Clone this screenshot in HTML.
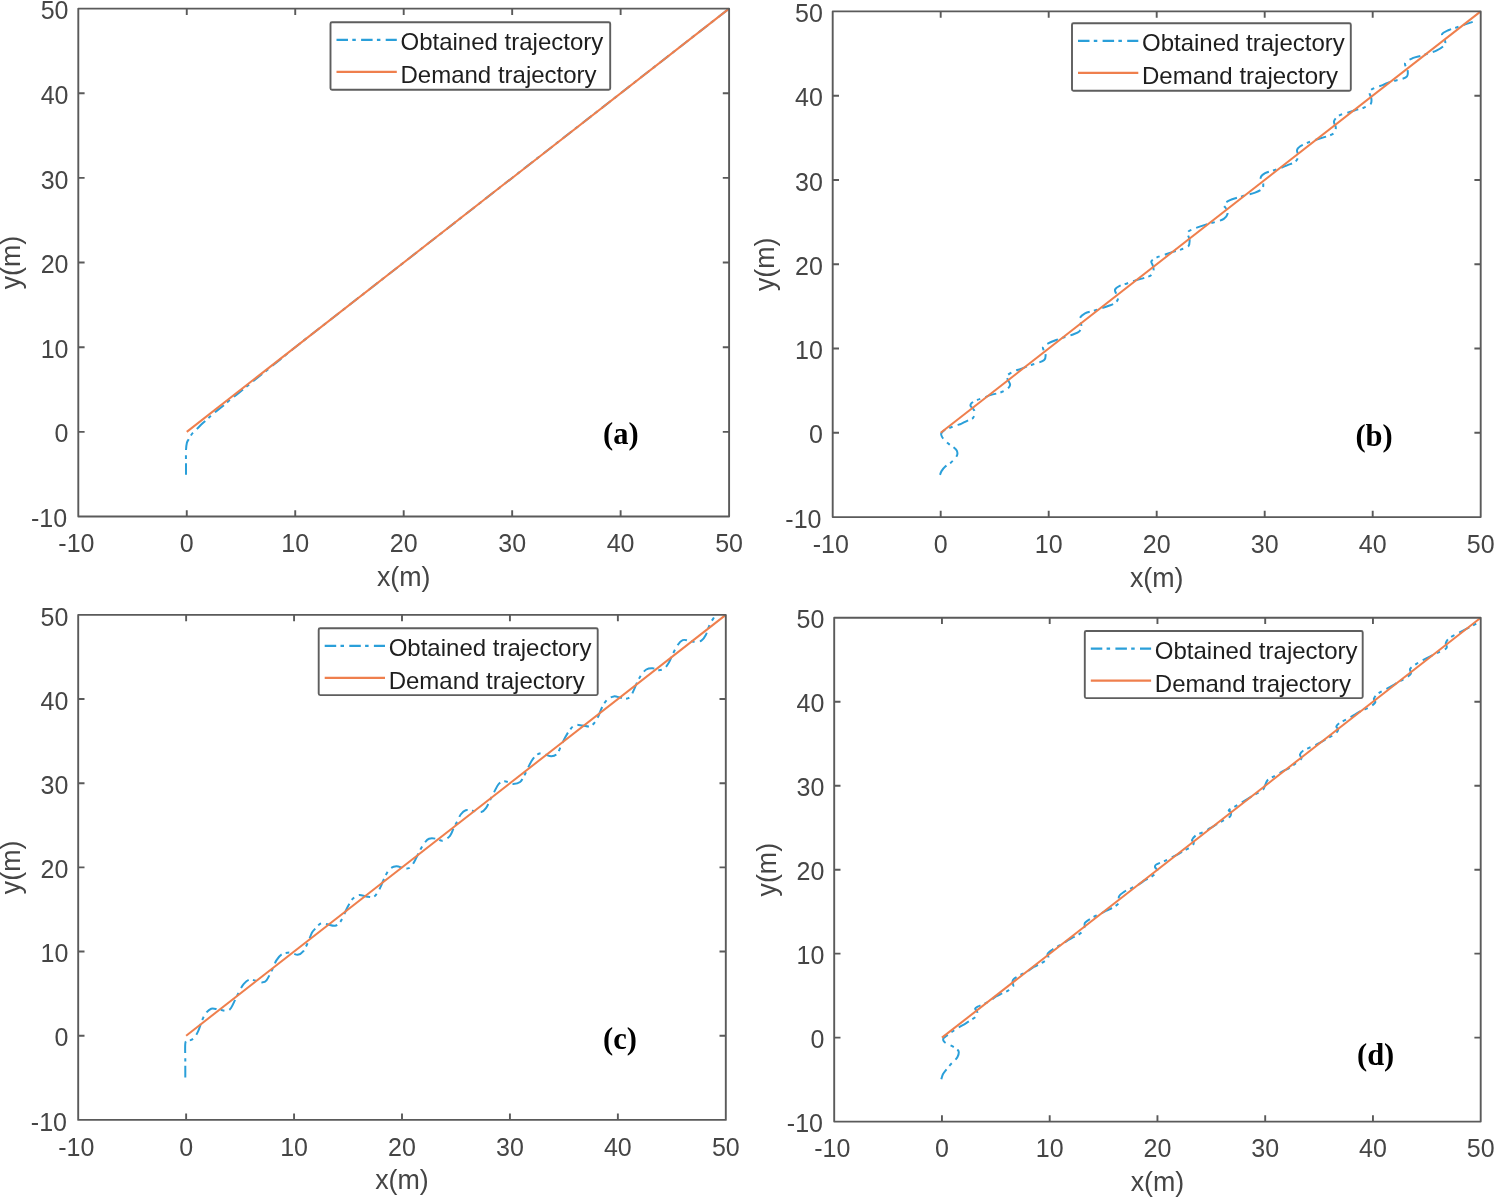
<!DOCTYPE html><html><head><meta charset="utf-8"><style>html,body{margin:0;padding:0;background:#fff;overflow:hidden;width:1494px;height:1198px;}svg{display:block;will-change:transform;}text{font-family:"Liberation Sans",sans-serif;}</style></head><body>
<svg xmlns="http://www.w3.org/2000/svg" width="1494" height="1198" viewBox="0 0 1494 1198">
<rect width="1494" height="1198" fill="#fff"/>
<g><path d="M186 474.7C186 472.93 186 468.17 186 464.1C186 460.03 185.85 453.85 186 450.3C186.15 446.75 186.43 444.68 186.9 442.8C187.37 440.92 187.97 440.47 188.8 439C189.63 437.53 190.65 435.57 191.9 434C193.15 432.43 194.52 431.38 196.3 429.6C198.08 427.82 200.52 425.28 202.6 423.3C204.68 421.32 206.9 419.42 208.8 417.7C210.7 415.98 211.8 414.82 214 413C216.2 411.17 219.33 408.92 222 406.75C224.67 404.58 227 402.46 230 399.98C233 397.51 236.67 394.6 240 391.91C243.33 389.22 246.67 386.53 250 383.84C253.33 381.15 256.67 378.46 260 375.77C263.33 373.08 266.67 370.39 270 367.7C273.33 365 276.67 362.31 280 359.62C283.33 356.93 286.67 354.24 290 351.55C293.33 348.86 295.83 346.78 300 343.48C304.17 340.18 310 335.68 315 331.77C320 327.87 322.5 325.92 330 320.07C337.5 314.21 348.33 305.76 360 296.65C371.67 287.55 386.67 275.84 400 265.44C413.33 255.03 426.67 244.63 440 234.22C453.33 223.81 466.67 213.41 480 203C493.33 192.6 506.67 182.19 520 171.79C533.33 161.38 546.67 150.98 560 140.57C573.33 130.16 586.67 119.76 600 109.35C613.33 98.95 626.67 88.54 640 78.14C653.33 67.73 666.67 57.32 680 46.92C693.33 36.51 711.98 21.96 720 15.7C728.02 9.45 726.75 10.43 728.1 9.38" fill="none" stroke="#2A9FD9" stroke-width="2" stroke-dasharray="11.5 4.3 3.5 5.3" stroke-linejoin="round"/><line x1="186.77" y1="431.85" x2="729.1" y2="8.6" stroke="#EF7F4D" stroke-width="2"/><rect x="78.3" y="8.6" width="650.8" height="507.9" fill="none" stroke="#5a5a5a" stroke-width="1.9" stroke-linejoin="round"/><path d="M186.77 516.5v-6.3M186.77 8.6v6.3M78.3 431.85h6.3M729.1 431.85h-6.3M295.23 516.5v-6.3M295.23 8.6v6.3M78.3 347.2h6.3M729.1 347.2h-6.3M403.7 516.5v-6.3M403.7 8.6v6.3M78.3 262.55h6.3M729.1 262.55h-6.3M512.17 516.5v-6.3M512.17 8.6v6.3M78.3 177.9h6.3M729.1 177.9h-6.3M620.63 516.5v-6.3M620.63 8.6v6.3M78.3 93.25h6.3M729.1 93.25h-6.3" stroke="#5a5a5a" stroke-width="1.9" fill="none"/><text x="76.4" y="552.1" text-anchor="middle" font-size="25" fill="#454545">-10</text><text x="67.1" y="527.1" text-anchor="end" font-size="25" fill="#454545">-10</text><text x="186.77" y="552.1" text-anchor="middle" font-size="25" fill="#454545">0</text><text x="68.5" y="442.45" text-anchor="end" font-size="25" fill="#454545">0</text><text x="295.23" y="552.1" text-anchor="middle" font-size="25" fill="#454545">10</text><text x="68.5" y="357.8" text-anchor="end" font-size="25" fill="#454545">10</text><text x="403.7" y="552.1" text-anchor="middle" font-size="25" fill="#454545">20</text><text x="68.5" y="273.15" text-anchor="end" font-size="25" fill="#454545">20</text><text x="512.17" y="552.1" text-anchor="middle" font-size="25" fill="#454545">30</text><text x="68.5" y="188.5" text-anchor="end" font-size="25" fill="#454545">30</text><text x="620.63" y="552.1" text-anchor="middle" font-size="25" fill="#454545">40</text><text x="68.5" y="103.85" text-anchor="end" font-size="25" fill="#454545">40</text><text x="729.1" y="552.1" text-anchor="middle" font-size="25" fill="#454545">50</text><text x="68.5" y="19.2" text-anchor="end" font-size="25" fill="#454545">50</text><text x="403.7" y="586" text-anchor="middle" font-size="26.8" fill="#454545">x(m)</text><text transform="translate(19.8 262.55) rotate(-90)" text-anchor="middle" font-size="26.8" fill="#454545">y(m)</text><rect x="330.5" y="22.2" width="279.7" height="67.6" rx="1.5" fill="#fff" stroke="#5e5e5e" stroke-width="1.9"/><line x1="336.5" y1="39.9" x2="396.8" y2="39.9" stroke="#2A9FD9" stroke-width="2.2" stroke-dasharray="11.5 4.3 3.5 5.3"/><line x1="336.5" y1="71.8" x2="396.8" y2="71.8" stroke="#EF7F4D" stroke-width="2.2"/><text x="400.5" y="49.7" font-size="24" fill="#1e1e1e">Obtained trajectory</text><text x="400.5" y="82.8" font-size="24" fill="#1e1e1e">Demand trajectory</text><text x="620.85" y="443.55" text-anchor="middle" font-family="Liberation Serif" style="font-family:'Liberation Serif',serif" font-weight="bold" font-size="30.5" fill="#000">(a)</text></g>
<g><path d="M940 474.9C940.25 474.27 940.62 472.48 941.5 471.1C942.38 469.72 943.8 467.97 945.3 466.6C946.8 465.23 948.87 464.27 950.5 462.9C952.13 461.53 953.97 459.78 955.1 458.4C956.23 457.02 957 455.85 957.3 454.6C957.6 453.35 957.33 451.97 956.9 450.9C956.47 449.83 956.02 449.33 954.7 448.2C953.38 447.07 950.7 445.47 949 444.1C947.3 442.73 945.68 441.25 944.5 440C943.32 438.75 942.45 437.67 941.9 436.6C941.35 435.53 940.88 434.6 941.2 433.6C941.52 432.6 942.37 431.55 943.8 430.6C945.23 429.65 947.67 428.78 949.8 427.9C951.93 427.02 954.72 425.98 956.6 425.3C958.48 424.62 959.6 424.42 961.1 423.8C962.6 423.18 964.1 422.35 965.6 421.6C967.1 420.85 968.85 419.93 970.1 419.3C971.35 418.67 972.28 418.93 973.1 417.8C973.92 416.67 975 414 975 412.5C975 411 973.85 409.92 973.1 408.8C972.35 407.68 970.75 406.75 970.5 405.8C970.25 404.85 970.55 404.05 971.6 403.1C972.65 402.15 974.67 401.03 976.8 400.1C978.93 399.17 982.02 398.37 984.4 397.5C986.78 396.63 988.48 395.72 991.1 394.9C993.72 394.08 997.48 393.52 1000.1 392.6C1002.72 391.68 1005.13 390.7 1006.8 389.4C1008.47 388.1 1009.88 386.35 1010.1 384.8C1010.32 383.25 1008.65 381.55 1008.1 380.1C1007.55 378.65 1005.9 377.55 1006.8 376.1C1007.7 374.65 1011.05 372.63 1013.5 371.4C1015.95 370.17 1019.05 369.63 1021.5 368.7C1023.95 367.77 1025.75 366.68 1028.2 365.8C1030.65 364.92 1033.53 364.37 1036.2 363.4C1038.87 362.43 1042.65 361.57 1044.2 360C1045.75 358.43 1045.72 356.1 1045.5 354C1045.28 351.9 1042.45 349.17 1042.9 347.4C1043.35 345.63 1045.98 344.63 1048.2 343.4C1050.42 342.17 1053.53 341.02 1056.2 340C1058.87 338.98 1061.52 338.18 1064.2 337.3C1066.88 336.42 1069.77 335.68 1072.3 334.7C1074.83 333.72 1077.9 332.98 1079.4 331.4C1080.9 329.82 1081.3 327.28 1081.3 325.2C1081.3 323.12 1078.78 320.88 1079.4 318.9C1080.02 316.92 1082.6 314.65 1085 313.3C1087.4 311.95 1091.08 311.63 1093.8 310.8C1096.52 309.97 1098.8 309.13 1101.3 308.3C1103.8 307.47 1106.4 306.75 1108.8 305.8C1111.2 304.85 1114.13 303.97 1115.7 302.6C1117.27 301.23 1118.1 299.05 1118.2 297.6C1118.3 296.15 1116.82 295.25 1116.3 293.9C1115.78 292.55 1114.47 290.87 1115.1 289.5C1115.73 288.13 1118.02 286.75 1120.1 285.7C1122.18 284.65 1124.88 284.13 1127.6 283.2C1130.32 282.27 1133.48 281.03 1136.4 280.1C1139.32 279.17 1142.6 278.43 1145.1 277.6C1147.6 276.77 1149.98 276.35 1151.4 275.1C1152.82 273.85 1153.4 271.77 1153.6 270.1C1153.8 268.43 1152.97 266.57 1152.6 265.1C1152.23 263.63 1150.77 262.55 1151.4 261.3C1152.03 260.05 1154.32 258.63 1156.4 257.6C1158.48 256.57 1161.18 256.05 1163.9 255.1C1166.62 254.15 1169.78 252.85 1172.7 251.9C1175.62 250.95 1178.8 250.33 1181.4 249.4C1184 248.47 1186.93 247.87 1188.3 246.3C1189.67 244.73 1189.7 242.3 1189.6 240C1189.5 237.7 1186.97 234.37 1187.7 232.5C1188.43 230.63 1191.5 229.95 1194 228.8C1196.5 227.65 1200.03 226.52 1202.7 225.6C1205.37 224.68 1207.53 224 1210 223.3C1212.47 222.6 1215.2 222.13 1217.5 221.4C1219.8 220.67 1222.13 220.15 1223.8 218.9C1225.47 217.65 1227.08 215.57 1227.5 213.9C1227.92 212.23 1226.92 210.47 1226.3 208.9C1225.68 207.33 1223.18 205.97 1223.8 204.5C1224.42 203.03 1227.7 201.25 1230 200.1C1232.3 198.95 1234.88 198.43 1237.6 197.6C1240.32 196.77 1243.38 195.93 1246.3 195.1C1249.22 194.27 1252.48 193.63 1255.1 192.6C1257.72 191.57 1260.65 190.35 1262 188.9C1263.35 187.45 1263.42 185.78 1263.2 183.9C1262.98 182.02 1260.38 179.38 1260.7 177.6C1261.02 175.82 1263.12 174.35 1265.1 173.2C1267.08 172.05 1270.1 171.53 1272.6 170.7C1275.1 169.87 1277.6 169.13 1280.1 168.2C1282.6 167.27 1285.1 166.13 1287.6 165.1C1290.1 164.07 1293.32 163.47 1295.1 162C1296.88 160.53 1297.98 158.28 1298.3 156.3C1298.62 154.32 1296.68 151.77 1297 150.1C1297.32 148.43 1298.42 147.55 1300.2 146.3C1301.98 145.05 1305.2 143.65 1307.7 142.6C1310.2 141.55 1312.28 140.95 1315.2 140C1318.12 139.05 1322.07 138.03 1325.2 136.9C1328.33 135.77 1332.23 134.77 1334 133.2C1335.77 131.63 1335.8 129.48 1335.8 127.5C1335.8 125.52 1333.47 123.28 1334 121.3C1334.53 119.32 1336.75 117.03 1339 115.6C1341.25 114.17 1344.83 113.6 1347.5 112.7C1350.17 111.8 1352.28 111.03 1355 110.2C1357.72 109.37 1361.18 108.75 1363.8 107.7C1366.42 106.65 1369.45 105.47 1370.7 103.9C1371.95 102.33 1371.52 100.28 1371.3 98.3C1371.08 96.32 1368.98 93.67 1369.4 92C1369.82 90.33 1371.6 89.45 1373.8 88.3C1376 87.15 1379.68 86.25 1382.6 85.1C1385.52 83.95 1388.38 82.33 1391.3 81.4C1394.22 80.47 1397.48 80.33 1400.1 79.5C1402.72 78.67 1405.75 77.97 1407 76.4C1408.25 74.83 1407.92 72.3 1407.6 70.1C1407.28 67.9 1404.27 65.18 1405.1 63.2C1405.93 61.22 1409.88 59.45 1412.6 58.2C1415.32 56.95 1418.68 56.53 1421.4 55.7C1424.12 54.87 1426.4 54.03 1428.9 53.2C1431.4 52.37 1433.9 51.95 1436.4 50.7C1438.9 49.45 1442.43 47.27 1443.9 45.7C1445.37 44.13 1445.52 43.18 1445.2 41.3C1444.88 39.42 1441.38 36.28 1442 34.4C1442.62 32.52 1446.5 31.15 1448.9 30C1451.3 28.85 1453.68 28.43 1456.4 27.5C1459.12 26.57 1462.48 25.33 1465.2 24.4C1467.92 23.47 1471.45 22.32 1472.7 21.9" fill="none" stroke="#2A9FD9" stroke-width="2" stroke-dasharray="11.5 4.3 3.5 5.3" stroke-linejoin="round"/><line x1="940.7" y1="432.82" x2="1480.7" y2="11.4" stroke="#EF7F4D" stroke-width="2"/><rect x="832.7" y="11.4" width="648" height="505.7" fill="none" stroke="#5a5a5a" stroke-width="1.9" stroke-linejoin="round"/><path d="M940.7 517.1v-6.3M940.7 11.4v6.3M832.7 432.82h6.3M1480.7 432.82h-6.3M1048.7 517.1v-6.3M1048.7 11.4v6.3M832.7 348.53h6.3M1480.7 348.53h-6.3M1156.7 517.1v-6.3M1156.7 11.4v6.3M832.7 264.25h6.3M1480.7 264.25h-6.3M1264.7 517.1v-6.3M1264.7 11.4v6.3M832.7 179.97h6.3M1480.7 179.97h-6.3M1372.7 517.1v-6.3M1372.7 11.4v6.3M832.7 95.68h6.3M1480.7 95.68h-6.3" stroke="#5a5a5a" stroke-width="1.9" fill="none"/><text x="830.8" y="552.7" text-anchor="middle" font-size="25" fill="#454545">-10</text><text x="821.5" y="527.7" text-anchor="end" font-size="25" fill="#454545">-10</text><text x="940.7" y="552.7" text-anchor="middle" font-size="25" fill="#454545">0</text><text x="822.9" y="443.42" text-anchor="end" font-size="25" fill="#454545">0</text><text x="1048.7" y="552.7" text-anchor="middle" font-size="25" fill="#454545">10</text><text x="822.9" y="359.13" text-anchor="end" font-size="25" fill="#454545">10</text><text x="1156.7" y="552.7" text-anchor="middle" font-size="25" fill="#454545">20</text><text x="822.9" y="274.85" text-anchor="end" font-size="25" fill="#454545">20</text><text x="1264.7" y="552.7" text-anchor="middle" font-size="25" fill="#454545">30</text><text x="822.9" y="190.57" text-anchor="end" font-size="25" fill="#454545">30</text><text x="1372.7" y="552.7" text-anchor="middle" font-size="25" fill="#454545">40</text><text x="822.9" y="106.28" text-anchor="end" font-size="25" fill="#454545">40</text><text x="1480.7" y="552.7" text-anchor="middle" font-size="25" fill="#454545">50</text><text x="822.9" y="22" text-anchor="end" font-size="25" fill="#454545">50</text><text x="1156.7" y="586.6" text-anchor="middle" font-size="26.8" fill="#454545">x(m)</text><text transform="translate(774.2 264.25) rotate(-90)" text-anchor="middle" font-size="26.8" fill="#454545">y(m)</text><rect x="1072" y="23.2" width="278.8" height="67.6" rx="1.5" fill="#fff" stroke="#5e5e5e" stroke-width="1.9"/><line x1="1078" y1="40.9" x2="1138.3" y2="40.9" stroke="#2A9FD9" stroke-width="2.2" stroke-dasharray="11.5 4.3 3.5 5.3"/><line x1="1078" y1="72.8" x2="1138.3" y2="72.8" stroke="#EF7F4D" stroke-width="2.2"/><text x="1142" y="50.7" font-size="24" fill="#1e1e1e">Obtained trajectory</text><text x="1142" y="83.8" font-size="24" fill="#1e1e1e">Demand trajectory</text><text x="1374.05" y="446.1" text-anchor="middle" font-family="Liberation Serif" style="font-family:'Liberation Serif',serif" font-weight="bold" font-size="30.5" fill="#000">(b)</text></g>
<g><path d="M185.3 1077.5C185.3 1074.58 185.3 1065.67 185.3 1060C185.3 1054.33 184.9 1046.73 185.3 1043.5C185.7 1040.27 186.7 1041.2 187.7 1040.6C188.7 1040 190.12 1040.48 191.3 1039.9C192.48 1039.32 193.62 1038.63 194.8 1037.1C195.98 1035.57 197.22 1033.42 198.4 1030.7C199.58 1027.98 200.72 1023.63 201.9 1020.8C203.08 1017.97 203.95 1015.72 205.5 1013.7C207.05 1011.68 209.08 1009.42 211.2 1008.7C213.32 1007.98 215.6 1009.05 218.2 1009.4C220.8 1009.75 224.67 1011.03 226.8 1010.8C228.93 1010.57 229.58 1009.88 231 1008C232.42 1006.12 233.88 1002.33 235.3 999.5C236.72 996.67 238.08 993.6 239.5 991C240.92 988.4 242.13 985.8 243.8 983.9C245.47 982 247.37 980.08 249.5 979.6C251.63 979.12 254.48 980.53 256.6 981C258.72 981.47 260.55 982.52 262.2 982.4C263.85 982.28 264.83 982.42 266.5 980.3C268.17 978.18 270.55 973.02 272.2 969.7C273.85 966.38 274.75 963 276.4 960.4C278.05 957.8 279.73 955.4 282.1 954.1C284.47 952.8 288 952.48 290.6 952.6C293.2 952.72 295.57 955.03 297.7 954.8C299.83 954.57 301.62 953.45 303.4 951.2C305.18 948.95 306.98 944.37 308.4 941.3C309.82 938.23 310.8 934.87 311.9 932.8C313 930.73 313.65 930.38 315 928.9C316.35 927.42 318.53 924.83 320 923.9C321.47 922.97 322.43 923.2 323.8 923.3C325.17 923.4 326.33 924.08 328.2 924.5C330.07 924.92 333.02 926.22 335 925.8C336.98 925.38 338.63 923.77 340.1 922C341.57 920.23 342.55 917.7 343.8 915.2C345.05 912.7 346.13 909.72 347.6 907C349.07 904.28 350.73 900.88 352.6 898.9C354.47 896.92 356.52 895.52 358.8 895.1C361.08 894.68 363.9 896.08 366.3 896.4C368.7 896.72 371.32 897.63 373.2 897C375.08 896.37 376.23 894.58 377.6 892.6C378.97 890.62 380.15 887.82 381.4 885.1C382.65 882.38 383.65 879.02 385.1 876.3C386.55 873.58 388.22 870.47 390.1 868.8C391.98 867.13 394.1 866.4 396.4 866.3C398.7 866.2 401.82 867.88 403.9 868.2C405.98 868.52 407.43 868.83 408.9 868.2C410.37 867.57 411.45 866.17 412.7 864.4C413.95 862.63 415.15 860 416.4 857.6C417.65 855.2 418.95 852.3 420.2 850C421.45 847.7 422.43 845.67 423.9 843.8C425.37 841.93 426.9 839.63 429 838.8C431.1 837.97 434.22 838.48 436.5 838.8C438.78 839.12 440.45 841.2 442.7 840.7C444.95 840.2 448.15 837.97 450 835.8C451.85 833.63 452.55 830.2 453.8 827.7C455.05 825.2 456.35 823 457.5 820.8C458.65 818.6 459.33 816.27 460.7 814.5C462.07 812.73 463.73 810.82 465.7 810.2C467.67 809.58 469.9 810.5 472.5 810.8C475.1 811.1 479 812.53 481.3 812C483.6 811.47 484.83 809.58 486.3 807.6C487.77 805.62 488.73 802.8 490.1 800.1C491.47 797.4 493.05 794.1 494.5 791.4C495.95 788.7 497.25 785.57 498.8 783.9C500.35 782.23 501.92 781.62 503.8 781.4C505.68 781.18 508.53 782.18 510.1 782.6C511.67 783.02 511.53 784 513.2 783.9C514.87 783.8 518.32 783.27 520.1 782C521.88 780.73 522.65 778.5 523.9 776.3C525.15 774.1 526.35 771.3 527.6 768.8C528.85 766.3 529.93 763.58 531.4 761.3C532.87 759.02 534.73 756.45 536.4 755.1C538.07 753.75 539.93 753.32 541.4 753.2C542.87 753.08 543.53 753.88 545.2 754.4C546.87 754.92 549.42 756.4 551.4 756.3C553.38 756.2 555.43 755.68 557.1 753.8C558.77 751.92 559.95 747.92 561.4 745C562.85 742.08 564.33 738.9 565.8 736.3C567.27 733.7 568.63 731.28 570.2 729.4C571.77 727.52 573.12 725.63 575.2 725C577.28 724.37 580.23 725.37 582.7 725.6C585.17 725.83 587.95 726.98 590 726.4C592.05 725.82 593.53 723.97 595 722.1C596.47 720.23 597.55 717.82 598.8 715.2C600.05 712.58 601.05 709.02 602.5 706.4C603.95 703.78 605.62 701.17 607.5 699.5C609.38 697.83 611.7 696.72 613.8 696.4C615.9 696.08 618.22 697.18 620.1 697.6C621.98 698.02 623.43 699 625.1 698.9C626.77 698.8 628.65 698.47 630.1 697C631.55 695.53 632.55 692.7 633.8 690.1C635.05 687.5 636.35 683.9 637.6 681.4C638.85 678.9 639.85 677.08 641.3 675.1C642.75 673.12 644.42 670.65 646.3 669.5C648.18 668.35 650.72 668.1 652.6 668.2C654.48 668.3 655.72 669.98 657.6 670.1C659.48 670.22 662.02 670.15 663.9 668.9C665.78 667.65 667.45 665 668.9 662.6C670.35 660.2 671.15 657.42 672.6 654.5C674.05 651.58 675.92 647.5 677.6 645.1C679.28 642.7 680.82 640.83 682.7 640.1C684.58 639.37 686.82 640.4 688.9 640.7C690.98 641 693.12 641.9 695.2 641.9C697.28 641.9 699.63 641.85 701.4 640.7C703.17 639.55 704.53 637.4 705.8 635C707.07 632.6 708.05 628.58 709 626.3C709.95 624.02 710.67 622.77 711.5 621.3C712.33 619.83 713.58 618.13 714 617.5" fill="none" stroke="#2A9FD9" stroke-width="2" stroke-dasharray="11.5 4.3 3.5 5.3" stroke-linejoin="round"/><line x1="186.13" y1="1035.73" x2="725.8" y2="614.9" stroke="#EF7F4D" stroke-width="2"/><rect x="78.2" y="614.9" width="647.6" height="505" fill="none" stroke="#5a5a5a" stroke-width="1.9" stroke-linejoin="round"/><path d="M186.13 1119.9v-6.3M186.13 614.9v6.3M78.2 1035.73h6.3M725.8 1035.73h-6.3M294.07 1119.9v-6.3M294.07 614.9v6.3M78.2 951.57h6.3M725.8 951.57h-6.3M402 1119.9v-6.3M402 614.9v6.3M78.2 867.4h6.3M725.8 867.4h-6.3M509.93 1119.9v-6.3M509.93 614.9v6.3M78.2 783.23h6.3M725.8 783.23h-6.3M617.87 1119.9v-6.3M617.87 614.9v6.3M78.2 699.07h6.3M725.8 699.07h-6.3" stroke="#5a5a5a" stroke-width="1.9" fill="none"/><text x="76.3" y="1155.5" text-anchor="middle" font-size="25" fill="#454545">-10</text><text x="67" y="1130.5" text-anchor="end" font-size="25" fill="#454545">-10</text><text x="186.13" y="1155.5" text-anchor="middle" font-size="25" fill="#454545">0</text><text x="68.4" y="1046.33" text-anchor="end" font-size="25" fill="#454545">0</text><text x="294.07" y="1155.5" text-anchor="middle" font-size="25" fill="#454545">10</text><text x="68.4" y="962.17" text-anchor="end" font-size="25" fill="#454545">10</text><text x="402" y="1155.5" text-anchor="middle" font-size="25" fill="#454545">20</text><text x="68.4" y="878" text-anchor="end" font-size="25" fill="#454545">20</text><text x="509.93" y="1155.5" text-anchor="middle" font-size="25" fill="#454545">30</text><text x="68.4" y="793.83" text-anchor="end" font-size="25" fill="#454545">30</text><text x="617.87" y="1155.5" text-anchor="middle" font-size="25" fill="#454545">40</text><text x="68.4" y="709.67" text-anchor="end" font-size="25" fill="#454545">40</text><text x="725.8" y="1155.5" text-anchor="middle" font-size="25" fill="#454545">50</text><text x="68.4" y="625.5" text-anchor="end" font-size="25" fill="#454545">50</text><text x="402" y="1189.4" text-anchor="middle" font-size="26.8" fill="#454545">x(m)</text><text transform="translate(19.7 867.4) rotate(-90)" text-anchor="middle" font-size="26.8" fill="#454545">y(m)</text><rect x="318.7" y="628.2" width="279" height="66.9" rx="1.5" fill="#fff" stroke="#5e5e5e" stroke-width="1.9"/><line x1="324.7" y1="645.9" x2="385" y2="645.9" stroke="#2A9FD9" stroke-width="2.2" stroke-dasharray="11.5 4.3 3.5 5.3"/><line x1="324.7" y1="677.8" x2="385" y2="677.8" stroke="#EF7F4D" stroke-width="2.2"/><text x="388.7" y="655.7" font-size="24" fill="#1e1e1e">Obtained trajectory</text><text x="388.7" y="688.8" font-size="24" fill="#1e1e1e">Demand trajectory</text><text x="619.95" y="1048.75" text-anchor="middle" font-family="Liberation Serif" style="font-family:'Liberation Serif',serif" font-weight="bold" font-size="30.5" fill="#000">(c)</text></g>
<g><path d="M941.3 1079.3C941.57 1078.47 942.13 1075.83 942.9 1074.3C943.67 1072.77 944.72 1071.63 945.9 1070.1C947.08 1068.57 948.62 1066.62 950 1065.1C951.38 1063.58 952.93 1062.38 954.2 1061C955.47 1059.62 956.83 1058.27 957.6 1056.8C958.37 1055.33 958.8 1053.38 958.8 1052.2C958.8 1051.02 958.5 1050.6 957.6 1049.7C956.7 1048.8 955.15 1047.78 953.4 1046.8C951.65 1045.82 948.7 1044.72 947.1 1043.8C945.5 1042.88 944.42 1042.2 943.8 1041.3C943.18 1040.4 943.05 1039.23 943.4 1038.4C943.75 1037.57 944.65 1037.27 945.9 1036.3C947.15 1035.33 948.95 1033.98 950.9 1032.6C952.85 1031.22 955.23 1029.47 957.6 1028C959.97 1026.53 962.88 1025.12 965.1 1023.8C967.32 1022.48 969.1 1021.28 970.9 1020.1C972.7 1018.92 974.78 1017.68 975.9 1016.7C977.02 1015.72 977.45 1015.17 977.6 1014.2C977.75 1013.23 977.22 1011.8 976.8 1010.9C976.38 1010 974.97 1009.5 975.1 1008.8C975.23 1008.1 976.35 1007.4 977.6 1006.7C978.85 1006 980.65 1005.5 982.6 1004.6C984.55 1003.7 987.07 1002.65 989.3 1001.3C991.53 999.95 993.8 997.83 996 996.5C998.2 995.17 1000.37 994.35 1002.5 993.3C1004.63 992.25 1007.02 991.35 1008.8 990.2C1010.58 989.05 1012.58 987.77 1013.2 986.4C1013.82 985.03 1012.4 983.25 1012.5 982C1012.6 980.75 1012.33 980.15 1013.8 978.9C1015.27 977.65 1019 975.75 1021.3 974.5C1023.6 973.25 1025.52 972.65 1027.6 971.4C1029.68 970.15 1031.52 968.35 1033.8 967C1036.08 965.65 1038.9 964.75 1041.3 963.3C1043.7 961.85 1047.15 959.87 1048.2 958.3C1049.25 956.73 1046.87 955.37 1047.6 953.9C1048.33 952.43 1050.52 950.97 1052.6 949.5C1054.68 948.03 1057.8 946.47 1060.1 945.1C1062.4 943.73 1064.1 942.65 1066.4 941.3C1068.7 939.95 1071.4 938.45 1073.9 937C1076.4 935.55 1079.63 934.27 1081.4 932.6C1083.17 930.93 1083.88 928.67 1084.5 927C1085.12 925.33 1083.95 924.07 1085.1 922.6C1086.25 921.13 1089.1 919.57 1091.4 918.2C1093.7 916.83 1096.4 915.65 1098.9 914.4C1101.4 913.15 1103.9 911.95 1106.4 910.7C1108.9 909.45 1111.8 908.27 1113.9 906.9C1116 905.53 1118.15 904.27 1119 902.5C1119.85 900.73 1118.17 898.07 1119 896.3C1119.83 894.53 1121.92 893.27 1124 891.9C1126.08 890.53 1129 889.35 1131.5 888.1C1134 886.85 1136.75 885.72 1139 884.4C1141.25 883.08 1142.85 881.53 1145 880.2C1147.15 878.87 1149.82 877.87 1151.9 876.4C1153.98 874.93 1156.98 872.97 1157.5 871.4C1158.02 869.83 1155.2 868.15 1155 867C1154.8 865.85 1154.83 865.43 1156.3 864.5C1157.77 863.57 1161.3 862.55 1163.8 861.4C1166.3 860.25 1168.8 858.85 1171.3 857.6C1173.8 856.35 1176.5 855.15 1178.8 853.9C1181.1 852.65 1182.9 851.35 1185.1 850.1C1187.3 848.85 1190.55 847.65 1192 846.4C1193.45 845.15 1193.8 843.65 1193.8 842.6C1193.8 841.55 1191.58 841.35 1192 840.1C1192.42 838.85 1194.32 836.45 1196.3 835.1C1198.28 833.75 1201.6 833.15 1203.9 832C1206.2 830.85 1208.02 829.45 1210.1 828.2C1212.18 826.95 1214.1 825.85 1216.4 824.5C1218.7 823.15 1221.6 821.47 1223.9 820.1C1226.2 818.73 1229.05 817.67 1230.2 816.3C1231.35 814.93 1231.02 812.93 1230.8 811.9C1230.58 810.87 1228.17 811.03 1228.9 810.1C1229.63 809.17 1233.12 807.55 1235.2 806.3C1237.28 805.05 1239.32 803.85 1241.4 802.6C1243.48 801.35 1245.4 800.17 1247.7 798.8C1250 797.43 1252.7 795.87 1255.2 794.4C1257.7 792.93 1261.03 791.57 1262.7 790C1264.37 788.43 1264.37 786.67 1265.2 785C1266.03 783.33 1266.23 781.45 1267.7 780C1269.17 778.55 1271.53 777.73 1274 776.3C1276.47 774.87 1280.03 772.73 1282.5 771.4C1284.97 770.07 1286.72 769.55 1288.8 768.3C1290.88 767.05 1292.92 765.47 1295 763.9C1297.08 762.33 1300.47 760.47 1301.3 758.9C1302.13 757.33 1299.58 755.95 1300 754.5C1300.42 753.05 1301.7 751.55 1303.8 750.2C1305.9 748.85 1309.88 747.67 1312.6 746.4C1315.32 745.13 1317.6 743.95 1320.1 742.6C1322.6 741.25 1325.1 739.75 1327.6 738.3C1330.1 736.85 1333.33 735.37 1335.1 733.9C1336.87 732.43 1338 730.75 1338.2 729.5C1338.4 728.25 1335.98 727.55 1336.3 726.4C1336.62 725.25 1338.42 723.75 1340.1 722.6C1341.78 721.45 1344.1 720.75 1346.4 719.5C1348.7 718.25 1351.4 716.57 1353.9 715.1C1356.4 713.63 1358.9 711.95 1361.4 710.7C1363.9 709.45 1366.6 708.95 1368.9 707.6C1371.2 706.25 1374.37 704.07 1375.2 702.6C1376.03 701.13 1373.48 700.27 1373.9 698.8C1374.32 697.33 1376.03 695.25 1377.7 693.8C1379.37 692.35 1381.82 691.25 1383.9 690.1C1385.98 688.95 1387.9 688.17 1390.2 686.9C1392.5 685.63 1395.2 683.95 1397.7 682.5C1400.2 681.05 1403.02 679.65 1405.2 678.2C1407.38 676.75 1409.97 675.37 1410.8 673.8C1411.63 672.23 1409.25 670.47 1410.2 668.8C1411.15 667.13 1414.38 665.23 1416.5 663.8C1418.62 662.37 1420.68 661.4 1422.9 660.2C1425.12 659 1427.48 657.77 1429.8 656.6C1432.12 655.43 1434.03 654.62 1436.8 653.2C1439.57 651.78 1444.9 649.75 1446.4 648.1C1447.9 646.45 1445.35 644.95 1445.8 643.3C1446.25 641.65 1447.22 639.8 1449.1 638.2C1450.98 636.6 1454.7 635 1457.1 633.7C1459.5 632.4 1461.35 631.52 1463.5 630.4C1465.65 629.28 1467.85 628.15 1470 627C1472.15 625.85 1475.33 624.08 1476.4 623.5" fill="none" stroke="#2A9FD9" stroke-width="2" stroke-dasharray="11.5 4.3 3.5 5.3" stroke-linejoin="round"/><line x1="941.95" y1="1037.63" x2="1480.7" y2="617.8" stroke="#EF7F4D" stroke-width="2"/><rect x="834.2" y="617.8" width="646.5" height="503.8" fill="none" stroke="#5a5a5a" stroke-width="1.9" stroke-linejoin="round"/><path d="M941.95 1121.6v-6.3M941.95 617.8v6.3M834.2 1037.63h6.3M1480.7 1037.63h-6.3M1049.7 1121.6v-6.3M1049.7 617.8v6.3M834.2 953.67h6.3M1480.7 953.67h-6.3M1157.45 1121.6v-6.3M1157.45 617.8v6.3M834.2 869.7h6.3M1480.7 869.7h-6.3M1265.2 1121.6v-6.3M1265.2 617.8v6.3M834.2 785.73h6.3M1480.7 785.73h-6.3M1372.95 1121.6v-6.3M1372.95 617.8v6.3M834.2 701.77h6.3M1480.7 701.77h-6.3" stroke="#5a5a5a" stroke-width="1.9" fill="none"/><text x="832.3" y="1157.2" text-anchor="middle" font-size="25" fill="#454545">-10</text><text x="823" y="1132.2" text-anchor="end" font-size="25" fill="#454545">-10</text><text x="941.95" y="1157.2" text-anchor="middle" font-size="25" fill="#454545">0</text><text x="824.4" y="1048.23" text-anchor="end" font-size="25" fill="#454545">0</text><text x="1049.7" y="1157.2" text-anchor="middle" font-size="25" fill="#454545">10</text><text x="824.4" y="964.27" text-anchor="end" font-size="25" fill="#454545">10</text><text x="1157.45" y="1157.2" text-anchor="middle" font-size="25" fill="#454545">20</text><text x="824.4" y="880.3" text-anchor="end" font-size="25" fill="#454545">20</text><text x="1265.2" y="1157.2" text-anchor="middle" font-size="25" fill="#454545">30</text><text x="824.4" y="796.33" text-anchor="end" font-size="25" fill="#454545">30</text><text x="1372.95" y="1157.2" text-anchor="middle" font-size="25" fill="#454545">40</text><text x="824.4" y="712.37" text-anchor="end" font-size="25" fill="#454545">40</text><text x="1480.7" y="1157.2" text-anchor="middle" font-size="25" fill="#454545">50</text><text x="824.4" y="628.4" text-anchor="end" font-size="25" fill="#454545">50</text><text x="1157.45" y="1191.1" text-anchor="middle" font-size="26.8" fill="#454545">x(m)</text><text transform="translate(775.7 869.7) rotate(-90)" text-anchor="middle" font-size="26.8" fill="#454545">y(m)</text><rect x="1084.8" y="631" width="277.9" height="67.1" rx="1.5" fill="#fff" stroke="#5e5e5e" stroke-width="1.9"/><line x1="1090.8" y1="648.7" x2="1151.1" y2="648.7" stroke="#2A9FD9" stroke-width="2.2" stroke-dasharray="11.5 4.3 3.5 5.3"/><line x1="1090.8" y1="680.6" x2="1151.1" y2="680.6" stroke="#EF7F4D" stroke-width="2.2"/><text x="1154.8" y="658.5" font-size="24" fill="#1e1e1e">Obtained trajectory</text><text x="1154.8" y="691.6" font-size="24" fill="#1e1e1e">Demand trajectory</text><text x="1375.65" y="1064.95" text-anchor="middle" font-family="Liberation Serif" style="font-family:'Liberation Serif',serif" font-weight="bold" font-size="30.5" fill="#000">(d)</text></g>
</svg></body></html>
